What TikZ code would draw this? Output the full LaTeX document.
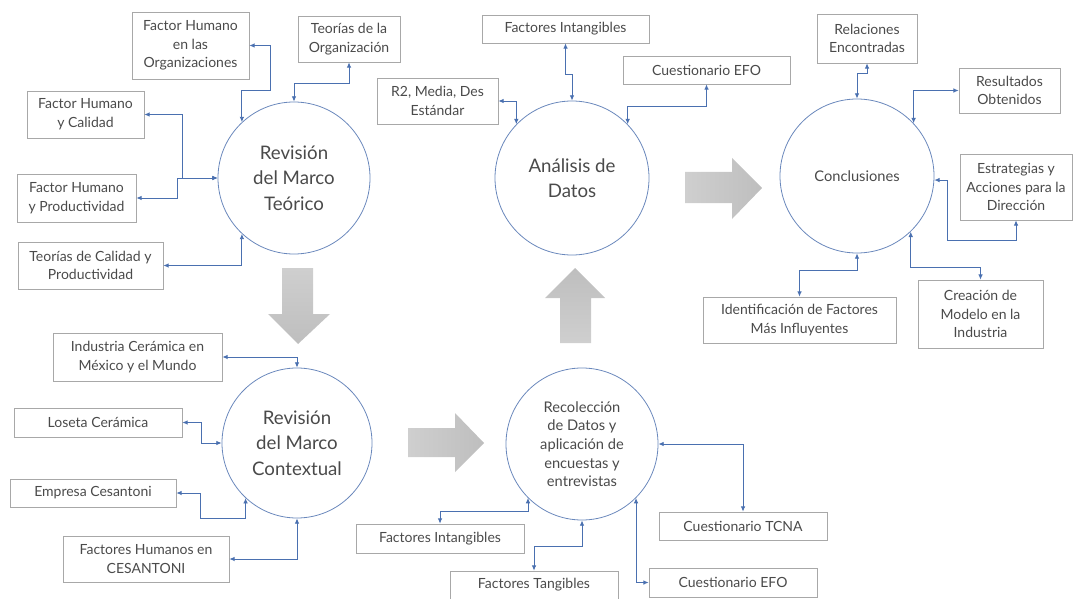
\documentclass[tikz,border=0pt]{standalone}
\usepackage{fontspec}
\setmainfont{Lato}
\usetikzlibrary{arrows.meta}
\definecolor{azul}{HTML}{4A70B0}
\definecolor{circ}{HTML}{6A88BC}
\definecolor{borde}{HTML}{A8A8A8}
\definecolor{texto}{HTML}{4A4A4A}
\definecolor{gris1}{HTML}{CFCFCF}
\definecolor{gris2}{HTML}{BEBEBE}
\tikzset{
  caja/.style 2 args={draw=borde, line width=0.5pt, align=center, text=texto,
    font=\fontsize{10.5}{14}\selectfont, inner sep=1pt,
    minimum width=#1*0.75pt, minimum height=#2*0.75pt},
  circulo/.style={draw=circ, line width=0.6pt, circle, inner sep=0pt, align=center,
    text=texto, minimum size=#1*0.75pt},
  enlace/.style={<->, draw=azul, line width=0.7pt},
}
\begin{document}
\begin{tikzpicture}[x=0.75pt, y=-0.75pt, >={Latex[length=4pt,width=3.5pt]}]
    \useasboundingbox (0,0) rectangle (1074,599);

    % 1. Etapas
    \node[circulo=152, font=\fontsize{14}{19}\selectfont] (teo) at (294,178) {Revisión\\del Marco\\Teórico};
    \node[circulo=154, font=\fontsize{14}{19}\selectfont] (ana) at (572,178) {Análisis de\\Datos};
    \node[circulo=154, font=\fontsize{11}{14}\selectfont] (con) at (857,176) {Conclusiones};
    \node[circulo=150, font=\fontsize{14}{19}\selectfont] (ctx) at (297,443) {Revisión\\del Marco\\Contextual};
    \node[circulo=152, font=\fontsize{11}{14}\selectfont] (rec) at (582,444) {Recolección\\de Datos y\\aplicación de\\encuestas y\\entrevistas};

    % 2. Marco teórico
    \node[caja={117}{67}] (fho) at (190.5,45.5) {Factor Humano\\en las\\Organizaciones};
    \node[caja={102}{46}] (tor) at (349,39) {Teorías de la\\Organización};
    \node[caja={117}{47}] (fhc) at (85.5,114.5) {Factor Humano\\y Calidad};
    \node[caja={119}{48}] (fhp) at (76.5,198) {Factor Humano\\y Productividad};
    \node[caja={145}{47}] (tcp) at (90.5,265.5) {Teorías de Calidad y\\Productividad};
    \draw[enlace] (fho.east) -| (270,90) -| (teo.133);
    \draw[enlace] (tor.south) -- ++(0,21) -| (teo.north);
    \draw[enlace] (fhc.east) -| (182,178) -- (teo.west);
    \draw[enlace] (fhp.east) -| (177,178) -- (teo.west);
    \draw[enlace] (tcp.east) -| (teo.227);

    % 3. Analisis de datos
    \node[caja={121}{46}] (r2) at (437.5,101) {R2, Media, Des\\Estándar};
    \node[caja={167}{28}] (fia) at (565.5,29) {Factores Intangibles};
    \node[caja={167}{28}] (efa) at (706.5,70) {Cuestionario EFO};
    \draw[enlace] (r2.east) -| (ana.136);
    \draw[enlace] (fia.south) |- (ana.north |- 0,74) -- (ana.north);
    \draw[enlace] (efa.south) -- ++(0,22) -| (ana.44);

    % 4. Conclusiones
    \node[caja={100}{49}] (rel) at (867,38.5) {Relaciones\\Encontradas};
    \node[caja={101}{45}] (res) at (1009.5,90.5) {Resultados\\Obtenidos};
    \node[caja={112}{66}] (est) at (1016,187) {Estrategias y\\Acciones para la\\Dirección};
    \node[caja={193}{46}] (ide) at (799.5,320) {Identificación de Factores\\Más Influyentes};
    \node[caja={125}{68}] (cre) at (980.5,314) {Creación de\\Modelo en la\\Industria};
    \draw[enlace] (rel.south) |- (con.north |- 0,73) -- (con.north);
    \draw[enlace] (res.west) -| (con.43);
    \draw[enlace] (con.-3) -- ++(13,0) |- (est.south |- 0,240) -- (est.south);
    \draw[enlace] (con.314) |- (cre.north |- 0,267) -- (cre.north);
    \draw[enlace] (con.south) -- ++(0,17) -| (ide.north);

    % 5. Marco contextual
    \node[caja={169}{48}] (ind) at (137.5,357) {Industria Cerámica en\\México y el Mundo};
    \node[caja={168}{29}] (los) at (98,422.5) {Loseta Cerámica};
    \node[caja={166}{28}] (emp) at (93,493) {Empresa Cesantoni};
    \node[caja={166}{46}] (fhce) at (146,559) {Factores Humanos en\\CESANTONI};
    \draw[enlace] (ind.east) -| (ctx.north);
    \draw[enlace] (los.east) -- ++(19,0) |- (ctx.west);
    \draw[enlace] (emp.east) -- ++(24,0) |- (ctx.227 |- 0,518) -- (ctx.227);
    \draw[enlace] (fhce.east) -| (ctx.south);

    % 6. Recoleccion
    \node[caja={168}{29}] (fib) at (440,538.5) {Factores Intangibles};
    \node[caja={168}{28}] (ftb) at (534,585) {Factores Tangibles};
    \node[caja={168}{28}] (tcna) at (743,526) {Cuestionario TCNA};
    \node[caja={168}{29}] (efb) at (733,582.5) {Cuestionario EFO};
    \draw[enlace] (rec.225) -- (rec.225 |- 0,511) -| (fib.north);
    \draw[enlace] (rec.south) -- ++(0,26) -| (ftb.north);
    \draw[enlace] (rec.east) -| (tcna.north);
    \draw[enlace] (rec.315) |- (efb.west);

    % 7. Flechas grandes
    \shade[top color=gris1, bottom color=gris2] (282,268) -- (313,268) -- (313,314) -- (330,314)
        -- (298,344) -- (268,314) -- (282,314) -- cycle;
    \shade[top color=gris2, bottom color=gris1] (560,343) -- (591,343) -- (591,298) -- (605,298)
        -- (575,268) -- (545,298) -- (560,298) -- cycle;
    \shade[left color=gris1, right color=gris2] (408,428) -- (455,428) -- (455,413) -- (484,443)
        -- (455,472) -- (455,457) -- (408,457) -- cycle;
    \shade[left color=gris1, right color=gris2] (685,172) -- (732,172) -- (732,158) -- (762,188)
        -- (732,219) -- (732,203) -- (685,203) -- cycle;
\end{tikzpicture}
\end{document}
